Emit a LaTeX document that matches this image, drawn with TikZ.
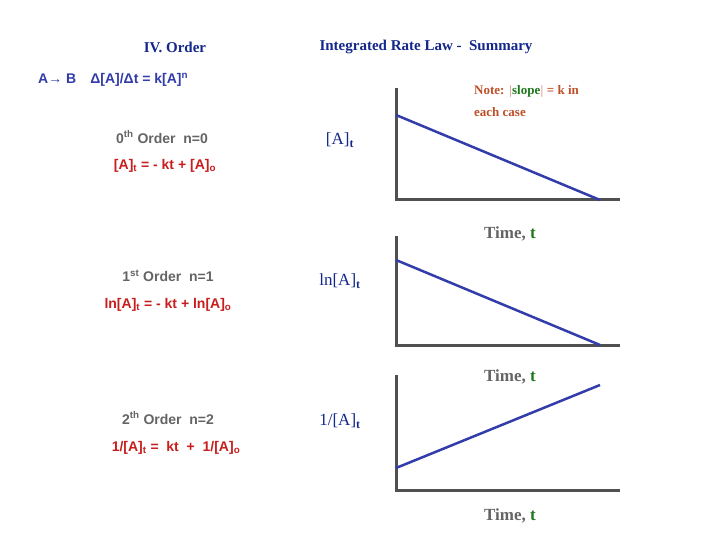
\documentclass[tikz,border=0pt]{standalone}
\usepackage{amsmath}
\usepackage{fontspec}
\setmainfont{Liberation Serif}
\newfontfamily\arial{Liberation Sans}
\begin{document}
\begin{tikzpicture}[x=1pt,y=-1pt]
\definecolor{dblue}{RGB}{20,40,140}
\definecolor{lblue}{RGB}{50,60,170}
\definecolor{ared}{RGB}{200,30,30}
\definecolor{brn}{RGB}{190,80,40}
\definecolor{gry}{RGB}{100,100,100}
\definecolor{axg}{RGB}{80,80,80}
\definecolor{grn}{RGB}{30,120,30}
\tikzset{ttl/.style={font=\bfseries\fontsize{15}{17}\selectfont,text=dblue,inner sep=0},
 ord/.style={font=\arial\bfseries\fontsize{14}{16}\selectfont,text=gry,inner sep=0},
 eqn/.style={font=\arial\bfseries\fontsize{14}{16}\selectfont,text=ared,inner sep=0},
 ylab/.style={font=\fontsize{17}{19}\selectfont,text=dblue,inner sep=0},
 tlab/.style={font=\bfseries\fontsize{17}{19}\selectfont,text=gry,inner sep=0},
 ax/.style={draw=axg,line width=3pt},
 ln/.style={draw=lblue,line width=2.5pt}}
\useasboundingbox[fill=white] (0,0) rectangle (720,540);
\node[ttl] (t1) at (175,47) {IV. Order};
\node[ttl] (t2) at (426,47) {Integrated Rate Law -\ \ Summary};
\node[font=\arial\bfseries\fontsize{14}{16}\selectfont,text=lblue,anchor=west,inner sep=0] (ab) at (38,80) {A→ B\quad Δ[A]/Δt = k[A]\textsuperscript{n}};
\node[font=\bfseries\fontsize{13}{22}\selectfont,text=brn,anchor=west,align=left,inner sep=0] (note) at (474,101) {Note: $|$\textcolor{grn}{slope}$|$ = k in\\each case};
% graph 1
\coordinate (o1) at (396,200);
\draw[ax] (396,88) -- (o1) -- (620,200);
\coordinate (a1) at (396,115); \coordinate (b1) at (600,200);
\draw[ln] (a1) -- (b1);
\node[ylab] (y1) at (340,140) {[A]\textsubscript{\textbf{t}}};
\node[tlab] (x1) at (510,234) {Time, \textcolor{grn}{t}};
% graph 2
\coordinate (o2) at (396,345);
\draw[ax] (396,236) -- (o2) -- (620,345);
\coordinate (a2) at (396,260); \coordinate (b2) at (600,345);
\draw[ln] (a2) -- (b2);
\node[ylab] (y2) at (340,281) {ln[A]\textsubscript{\textbf{t}}};
\node[tlab] (x2) at (510,377) {Time, \textcolor{grn}{t}};
% graph 3
\coordinate (o3) at (396,490);
\draw[ax] (396,375) -- (o3) -- (620,490);
\coordinate (a3) at (396,468); \coordinate (b3) at (600,385);
\draw[ln] (a3) -- (b3);
\node[ylab] (y3) at (340,421) {1/[A]\textsubscript{\textbf{t}}};
\node[tlab] (x3) at (510,516) {Time, \textcolor{grn}{t}};
% left
\node[ord] (o0) at (162,137) {0\textsuperscript{th} Order\ \ n=0};
\node[eqn] (e0) at (165,166) {[A]\textsubscript{t} = - kt + [A]\textsubscript{o}};
\node[ord] (o1t) at (168,276) {1\textsuperscript{st} Order\ \ n=1};
\node[eqn] (e1) at (168,305) {ln[A]\textsubscript{t} = - kt + ln[A]\textsubscript{o}};
\node[ord] (o2t) at (168,418) {2\textsuperscript{th} Order\ \ n=2};
\node[eqn] (e2) at (176,448) {1/[A]\textsubscript{t} =\ \ kt\ \ +\ \ 1/[A]\textsubscript{o}};
\end{tikzpicture}
\end{document}
